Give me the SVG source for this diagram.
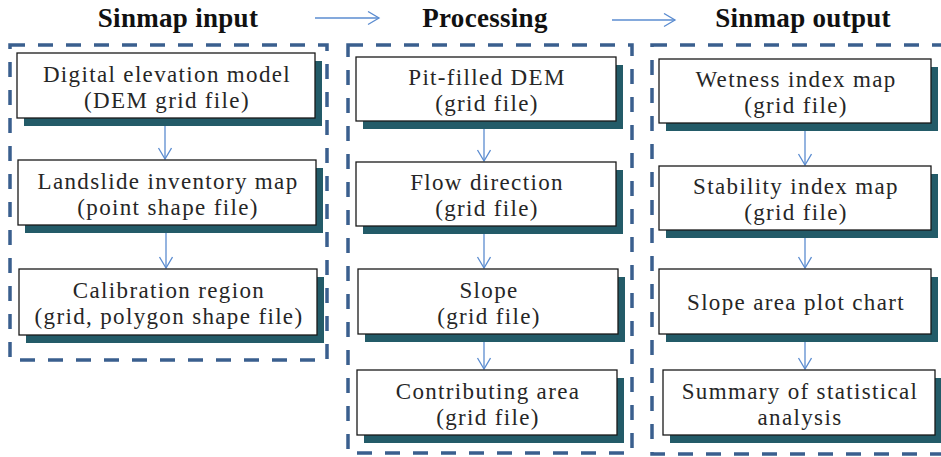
<svg xmlns="http://www.w3.org/2000/svg" width="941" height="457" viewBox="0 0 941 457">
<defs>
<style>
.bg{fill:#ffffff}
.group{fill:none;stroke:#3a5f8e;stroke-width:3.5;stroke-dasharray:15 13}
.shadow{fill:#235b68}
.box{fill:#ffffff;stroke:#1a1a1a;stroke-width:1.3}
.t{font-family:"Liberation Serif","DejaVu Serif",serif;font-size:23px;fill:#262626;text-anchor:middle;letter-spacing:1.35px}
.title{font-family:"Liberation Serif","DejaVu Serif",serif;font-size:27px;font-weight:bold;fill:#111;text-anchor:middle;letter-spacing:0.3px}
.conn{stroke:#5b8cd0;stroke-width:1.3;fill:none}
</style>
<marker id="ah" markerWidth="14" markerHeight="16" refX="12" refY="7" orient="auto" markerUnits="userSpaceOnUse">
<path d="M1,0.5 L12,7 L1,13.5" fill="none" stroke="#5b8cd0" stroke-width="1.3"/>
</marker>
</defs>
<rect class="bg" x="0" y="0" width="941" height="457"/>

<g id="titles">
<text class="title" x="178" y="27">Sinmap input</text>
<text class="title" x="485" y="27">Processing</text>
<text class="title" x="803" y="27">Sinmap output</text>
</g>

<g id="groups">
<rect id="group-input" class="group" x="10" y="45" width="317" height="315"/>
<rect id="group-processing" class="group" x="348" y="45" width="284" height="408"/>
<rect id="group-output" class="group" x="652" y="45" width="292" height="409"/>
</g>

<g id="connectors">
<line class="conn" x1="315" y1="18" x2="379" y2="18" marker-end="url(#ah)"/>
<line class="conn" x1="612" y1="20" x2="675" y2="20" marker-end="url(#ah)"/>
<line class="conn" x1="165" y1="118" x2="165" y2="159" marker-end="url(#ah)"/>
<line class="conn" x1="166" y1="225" x2="166" y2="268" marker-end="url(#ah)"/>
<line class="conn" x1="484" y1="121" x2="484" y2="161" marker-end="url(#ah)"/>
<line class="conn" x1="484" y1="226" x2="484" y2="268" marker-end="url(#ah)"/>
<line class="conn" x1="484" y1="334" x2="484" y2="369" marker-end="url(#ah)"/>
<line class="conn" x1="805" y1="123" x2="805" y2="165" marker-end="url(#ah)"/>
<line class="conn" x1="805" y1="231" x2="805" y2="268" marker-end="url(#ah)"/>
<line class="conn" x1="805" y1="334" x2="805" y2="369" marker-end="url(#ah)"/>
</g>

<g id="dem">
<rect class="shadow" x="24" y="61" width="298" height="65"/>
<rect class="box" x="17" y="53" width="298" height="65"/>
<text class="t" x="167" y="82">Digital elevation model</text>
<text class="t" x="167" y="108">(DEM grid file)</text>
</g>
<g id="landslide">
<rect class="shadow" x="25" y="168" width="298" height="65"/>
<rect class="box" x="18" y="160" width="298" height="65"/>
<text class="t" x="168" y="189">Landslide inventory map</text>
<text class="t" x="168" y="215">(point shape file)</text>
</g>
<g id="calibration">
<rect class="shadow" x="26" y="277" width="298" height="66"/>
<rect class="box" x="19" y="269" width="298" height="66"/>
<text class="t" x="169" y="298">Calibration region</text>
<text class="t" x="169" y="324">(grid, polygon shape file)</text>
</g>

<g id="pitfilled">
<rect class="shadow" x="363" y="65" width="260" height="64"/>
<rect class="box" x="356" y="57" width="260" height="64"/>
<text class="t" x="487" y="85">Pit-filled DEM</text>
<text class="t" x="487" y="111">(grid file)</text>
</g>
<g id="flowdir">
<rect class="shadow" x="363" y="170" width="260" height="64"/>
<rect class="box" x="356" y="162" width="260" height="64"/>
<text class="t" x="487" y="190">Flow direction</text>
<text class="t" x="487" y="216">(grid file)</text>
</g>
<g id="slope">
<rect class="shadow" x="365" y="277" width="260" height="65"/>
<rect class="box" x="358" y="269" width="260" height="65"/>
<text class="t" x="489" y="298">Slope</text>
<text class="t" x="489" y="324">(grid file)</text>
</g>
<g id="contrib">
<rect class="shadow" x="364" y="378" width="260" height="65"/>
<rect class="box" x="357" y="370" width="260" height="65"/>
<text class="t" x="488" y="399">Contributing area</text>
<text class="t" x="488" y="425">(grid file)</text>
</g>

<g id="wetness">
<rect class="shadow" x="666" y="67" width="272" height="64"/>
<rect class="box" x="659" y="59" width="272" height="64"/>
<text class="t" x="796" y="87">Wetness index map</text>
<text class="t" x="796" y="113">(grid file)</text>
</g>
<g id="stability">
<rect class="shadow" x="666" y="174" width="272" height="64"/>
<rect class="box" x="659" y="166" width="272" height="64"/>
<text class="t" x="796" y="194">Stability index map</text>
<text class="t" x="796" y="220">(grid file)</text>
</g>
<g id="slopearea">
<rect class="shadow" x="666" y="277" width="272" height="65"/>
<rect class="box" x="659" y="269" width="272" height="65"/>
<text class="t" x="796" y="310">Slope area plot chart</text>
</g>
<g id="summary">
<rect class="shadow" x="670" y="378" width="272" height="65"/>
<rect class="box" x="663" y="370" width="272" height="65"/>
<text class="t" x="800" y="399">Summary of statistical</text>
<text class="t" x="800" y="425">analysis</text>
</g>
</svg>
